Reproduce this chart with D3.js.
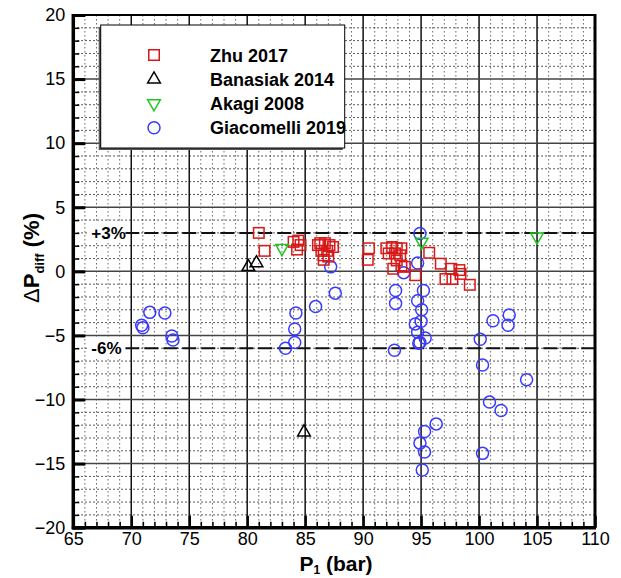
<!DOCTYPE html>
<html>
<head>
<meta charset="utf-8">
<script src="https://cdn.jsdelivr.net/npm/d3@7"></script>
<style>
  body { margin: 0; background: #fff; }
  text { font-family: "Liberation Sans", Arial, sans-serif; }
</style>
</head>
<body>
<svg id="chart" width="621" height="578"></svg>
<script>
// -- Data -- //
let zhuP = [81.0, 81.5, 84.0, 84.4, 84.6, 84.3, 86.1, 86.3, 86.7, 87.1, 87.4, 86.4, 86.9, 86.6, 87.0, 86.6,
            90.5, 90.4, 92.0, 92.5, 92.9, 93.3, 92.2, 92.75, 93.2, 92.9, 93.3, 93.6, 92.6, 94.5,
            95.7, 96.7, 97.6, 98.3, 98.4, 97.1, 97.7, 99.2];
let zhuD = [3.0, 1.6, 2.3, 2.4, 2.05, 1.7, 2.05, 2.2, 2.2, 2.05, 1.9, 1.6, 1.6, 1.25, 1.15, 0.9,
            1.8, 0.9, 1.8, 1.9, 1.8, 1.8, 1.4, 1.4, 1.25, 0.85, 0.45, 0.35, 0.2, -0.3,
            1.45, 0.6, 0.2, 0.1, -0.2, -0.6, -0.6, -1.05];
let banasiakP = [80.1, 80.8, 84.9];
let banasiakD = [0.35, 0.65, -12.55];
let akagiP = [83.0, 95.05, 105.0];
let akagiD = [1.8, 2.3, 2.7];
let giacomelliP = [70.9, 71.0, 71.6, 72.9, 73.5, 73.6, 83.3, 84.1, 84.1, 84.2, 85.9, 87.2, 87.6,
                   94.9, 94.7, 93.5, 92.8, 92.8, 95.2, 94.7, 95.05, 94.5, 95.0, 94.7, 95.35, 94.8, 94.9, 92.7,
                   101.2, 102.6, 102.5, 100.1, 100.3, 104.1, 100.9, 101.9, 96.3, 95.3, 94.9, 95.3, 100.3, 95.1];
let giacomelliD = [-4.2, -4.4, -3.2, -3.25, -5.05, -5.35, -6.0, -5.55, -4.5, -3.25, -2.75, 0.35, -1.7,
                   2.95, 0.65, -0.1, -1.5, -2.5, -1.5, -2.3, -3.0, -4.1, -3.9, -4.75, -5.2, -5.6, -5.55, -6.15,
                   -3.85, -3.4, -4.2, -5.3, -7.3, -8.45, -10.2, -10.85, -11.9, -12.5, -13.4, -14.1, -14.2, -15.5];
let seriesNames = ["Zhu 2017", "Banasiak 2014", "Akagi 2008", "Giacomelli 2019"];
let xTicks = d3.range(65, 111, 5);
let yTicks = d3.range(-20, 21, 5);
let limitLines = [{v: 3, label: "+3%"}, {v: -6, label: "-6%"}];

// -- Chart -- //
let svg = d3.select("#chart");
let pl = 73.3, pr = 595, pt = 15, pb = 527.7;
let x = d3.scaleLinear().domain([65, 110]).range([pl, pr]);
let y = d3.scaleLinear().domain([-20, 20]).range([pb, pt]);

// Minor dotted grid
let minorX = d3.range(66, 110).filter(v => v % 5 !== 0);
let minorY = d3.range(-19, 20).filter(v => v % 5 !== 0);
let grid = svg.append("g");
grid.append("g").selectAll("line").data(minorX).join("line")
  .attr("x1", d => x(d)).attr("x2", d => x(d)).attr("y1", pt).attr("y2", pb)
  .attr("stroke", "#666").attr("stroke-width", 1).attr("stroke-dasharray", "1.5,2.5");
grid.append("g").selectAll("line").data(minorY).join("line")
  .attr("x1", pl).attr("x2", pr).attr("y1", d => y(d)).attr("y2", d => y(d))
  .attr("stroke", "#222").attr("stroke-width", 1).attr("stroke-dasharray", "1.5,2.5");
// Major solid grid
grid.append("g").selectAll("line").data(xTicks.slice(1, -1)).join("line")
  .attr("x1", d => x(d)).attr("x2", d => x(d)).attr("y1", pt).attr("y2", pb)
  .attr("stroke", "#111").attr("stroke-width", 1.5);
grid.append("g").selectAll("line").data(yTicks.slice(1, -1)).join("line")
  .attr("x1", pl).attr("x2", pr).attr("y1", d => y(d)).attr("y2", d => y(d))
  .attr("stroke", "#444").attr("stroke-width", 1.5);

// Limit lines +3% / -6%
let lim = svg.append("g");
lim.selectAll("line").data(limitLines).join("line")
  .attr("x1", pl + 52).attr("x2", pr).attr("y1", d => y(d.v)).attr("y2", d => y(d.v))
  .attr("stroke", "#111").attr("stroke-width", 2).attr("stroke-dasharray", "14,5");
lim.selectAll("rect").data(limitLines).join("rect")
  .attr("x", pl + 14).attr("y", d => y(d.v) - 10).attr("width", 38).attr("height", 20)
  .attr("fill", "#fff");
lim.selectAll("text").data(limitLines).join("text")
  .attr("x", pl + 18).attr("y", d => y(d.v) + 6)
  .attr("font-size", 17).attr("font-weight", "bold").text(d => d.label);

// Symbols
let sq = 10.5;
let tri = d3.symbol().type(d3.symbolTriangle).size(70);
let marks = svg.append("g").attr("fill", "none").attr("stroke-width", 1.5);
marks.append("g").selectAll("circle").data(d3.range(giacomelliP.length)).join("circle")
  .attr("cx", i => x(giacomelliP[i])).attr("cy", i => y(giacomelliD[i])).attr("r", 6)
  .attr("stroke", "#3a3aff");
marks.append("g").selectAll("rect").data(d3.range(zhuP.length)).join("rect")
  .attr("x", i => x(zhuP[i]) - sq / 2).attr("y", i => y(zhuD[i]) - sq / 2)
  .attr("width", sq).attr("height", sq).attr("stroke", "#d81818");
marks.append("g").selectAll("path").data(d3.range(banasiakP.length)).join("path")
  .attr("d", tri).attr("transform", i => `translate(${x(banasiakP[i])},${y(banasiakD[i])})`)
  .attr("stroke", "#000");
marks.append("g").selectAll("path").data(d3.range(akagiP.length)).join("path")
  .attr("d", tri).attr("transform", i => `translate(${x(akagiP[i])},${y(akagiD[i])}) rotate(180)`)
  .attr("stroke", "#1ec81e");

// Frame
svg.append("rect").attr("x", pl).attr("y", pt).attr("width", pr - pl).attr("height", pb - pt)
  .attr("fill", "none").attr("stroke", "#000").attr("stroke-width", 2);
svg.append("line").attr("x1", pl).attr("x2", pl).attr("y1", pt - 1).attr("y2", pb + 1.5)
  .attr("stroke", "#000").attr("stroke-width", 3.5);
svg.append("line").attr("x1", pl - 1.5).attr("x2", pr + 1).attr("y1", pb).attr("y2", pb)
  .attr("stroke", "#000").attr("stroke-width", 3.5);
svg.append("line").attr("x1", pr).attr("x2", pr).attr("y1", pt - 1).attr("y2", pb)
  .attr("stroke", "#000").attr("stroke-width", 3);

// Axes (ticks pointing inward)
let yAxis = svg.append("g").attr("transform", `translate(${pl},0)`)
  .call(d3.axisLeft(y).tickValues(yTicks).tickSizeInner(-12).tickSizeOuter(0).tickPadding(8));
let yMinor = svg.append("g").attr("transform", `translate(${pl},0)`)
  .call(d3.axisLeft(y).tickValues(minorY).tickSizeInner(-6).tickSizeOuter(0).tickFormat(""));
let xAxis = svg.append("g").attr("transform", `translate(0,${pb})`)
  .call(d3.axisBottom(x).tickValues(xTicks).tickSizeInner(-12).tickSizeOuter(0).tickPadding(5));
let xMinor = svg.append("g").attr("transform", `translate(0,${pb})`)
  .call(d3.axisBottom(x).tickValues(minorX).tickSizeInner(-6).tickSizeOuter(0).tickFormat(""));
[yAxis, yMinor, xAxis, xMinor].forEach(a => {
  a.select(".domain").remove();
  a.selectAll("text").attr("font-size", 18).attr("fill", "#000")
    .style("font-family", "'Liberation Sans', Arial, sans-serif");
});
yAxis.selectAll("line").attr("stroke-width", 3);
xAxis.selectAll("line").attr("stroke-width", 2.5);
yMinor.selectAll("line").attr("stroke-width", 1.5);
xMinor.selectAll("line").attr("stroke-width", 1.5);

// Axis titles
let xt = svg.append("text").attr("x", 336).attr("y", 571).attr("text-anchor", "middle")
  .attr("font-size", 21).attr("font-weight", "bold");
xt.append("tspan").text("P");
xt.append("tspan").attr("font-size", 12).attr("dy", 3).text("1");
xt.append("tspan").attr("dy", -3).text(" (bar)");

let yt = svg.append("text").attr("transform", "translate(39,258) rotate(-90)")
  .attr("text-anchor", "middle").attr("font-size", 22).attr("font-weight", "bold");
yt.append("tspan").attr("font-weight", "normal").text("Δ");
yt.append("tspan").text("P");
yt.append("tspan").attr("font-size", 13).attr("dy", 5).text("diff");
yt.append("tspan").attr("dy", -5).text(" (%)");

// Legend
let lg = svg.append("g");
let lx = 100.7, ly = 25, lw = 244, lh = 123;
lg.append("rect").attr("x", lx - 2).attr("y", ly + 2).attr("width", lw).attr("height", lh).attr("fill", "#555");
lg.append("rect").attr("x", lx).attr("y", ly).attr("width", lw).attr("height", lh)
  .attr("fill", "#fff").attr("stroke", "#000").attr("stroke-width", 1);
let rowY = d3.scalePoint().domain(seriesNames).range([55, 127.7]);
let sx = 154;
lg.append("rect").attr("x", sx - sq / 2).attr("y", rowY(seriesNames[0]) - sq / 2).attr("width", sq).attr("height", sq)
  .attr("fill", "none").attr("stroke", "#d81818").attr("stroke-width", 1.5);
lg.append("path").attr("d", tri).attr("transform", `translate(${sx},${rowY(seriesNames[1])})`)
  .attr("fill", "none").attr("stroke", "#000").attr("stroke-width", 1.5);
lg.append("path").attr("d", tri).attr("transform", `translate(${sx},${rowY(seriesNames[2])}) rotate(180)`)
  .attr("fill", "none").attr("stroke", "#1ec81e").attr("stroke-width", 1.5);
lg.append("circle").attr("cx", sx).attr("cy", rowY(seriesNames[3])).attr("r", 6)
  .attr("fill", "none").attr("stroke", "#3a3aff").attr("stroke-width", 1.5);
lg.selectAll("text").data(seriesNames).join("text")
  .attr("x", 210).attr("y", d => rowY(d) + 6.5)
  .attr("font-size", 18).attr("font-weight", "bold").text(d => d);
</script>
</body>
</html>
